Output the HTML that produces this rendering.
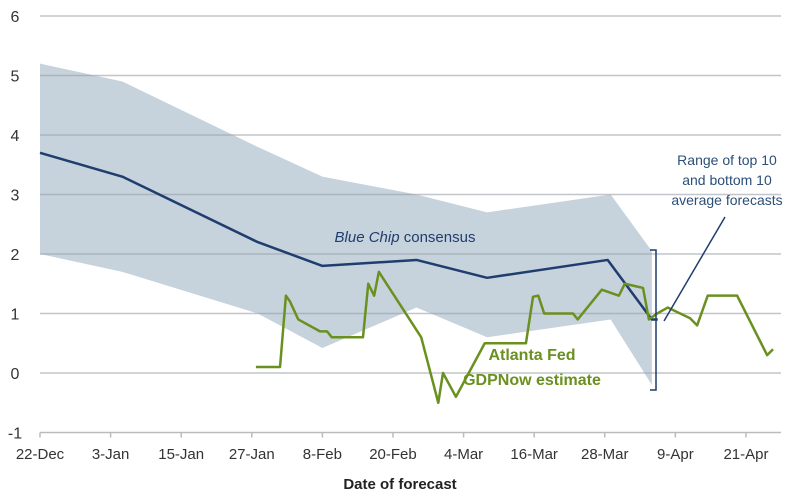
<!DOCTYPE html>
<html><head><meta charset="utf-8"><style>
body{margin:0;background:#fff}
svg{display:block;font-family:"Liberation Sans",sans-serif}
</style></head><body>
<svg id="chart" width="797" height="498" viewBox="0 0 797 498">
<g id="band"></g>
<g id="grid"></g>
<g id="yticks"></g>
<g id="xaxis"></g>
<g id="series"></g>
<text x="405" y="242" text-anchor="middle" font-size="15" fill="#1f3d6e"><tspan font-style="italic">Blue Chip</tspan> consensus</text>
<text x="532" y="360" text-anchor="middle" font-size="16" font-weight="bold" fill="#6a9020">Atlanta Fed</text>
<text x="532" y="385" text-anchor="middle" font-size="16" font-weight="bold" fill="#6a9020">GDPNow estimate</text>
<text x="727" y="165" text-anchor="middle" font-size="14" fill="#2b4f78">Range of top 10</text>
<text x="727" y="185" text-anchor="middle" font-size="14" fill="#2b4f78">and bottom 10</text>
<text x="727" y="205" text-anchor="middle" font-size="14" fill="#2b4f78">average forecasts</text>
<path d="M650,250 H656 V390 H650" fill="none" stroke="#1f3d6e" stroke-width="1.5"/>
<line x1="664" y1="321" x2="725" y2="217" stroke="#1f3d6e" stroke-width="1.5"/>
<text x="400" y="489" text-anchor="middle" font-size="15" font-weight="bold" fill="#222">Date of forecast</text>
</svg>
<script>
const yTicks=[-1,0,1,2,3,4,5,6];
const xLabels=["22-Dec","3-Jan","15-Jan","27-Jan","8-Feb","20-Feb","4-Mar","16-Mar","28-Mar","9-Apr","21-Apr"];
const xLabelDays=[0,12,24,36,48,60,72,84,96,108,120];
const bandDays=[0,14,37,48,64,76,97,104];
const bandUpper=[5.2,4.9,3.8,3.3,3.0,2.7,3.0,2.05];
const bandLower=[2.0,1.7,1.0,0.42,1.1,0.6,0.9,-0.2];
const blueDays=[0,14,37,48,64,76,96.5,104,105];
const blueVals=[3.7,3.3,2.2,1.8,1.9,1.6,1.9,0.9,0.9];
const greenDays=[36.7,40.8,41.8,42.5,43.9,47.6,48.8,49.6,54.9,55.8,56.8,57.6,64.8,67.7,68.5,70.7,75.6,82.6,83.8,84.7,85.7,90.6,91.4,95.5,98.4,99.4,102.5,103.5,104.9,106.7,110.5,111.7,113.5,118.5,123.6,124.6];
const greenVals=[0.1,0.1,1.3,1.2,0.9,0.7,0.7,0.6,0.6,1.5,1.3,1.7,0.6,-0.5,0.0,-0.4,0.5,0.5,1.28,1.3,1.0,1.0,0.9,1.4,1.3,1.5,1.43,0.9,1.0,1.1,0.92,0.8,1.3,1.3,0.3,0.4];
const NS="http://www.w3.org/2000/svg";
function x(d){return 40+5.883*d;}
function y(v){return 373-59.5*v;}
function mk(tag,attrs,parent){const e=document.createElementNS(NS,tag);for(const k in attrs)e.setAttribute(k,attrs[k]);parent.appendChild(e);return e;}
const band=document.getElementById('band'),grid=document.getElementById('grid'),yt=document.getElementById('yticks'),xa=document.getElementById('xaxis'),ser=document.getElementById('series');
let pts=bandDays.map((d,i)=>x(d)+','+y(bandUpper[i]));
for(let i=bandDays.length-1;i>=0;i--)pts.push(x(bandDays[i])+','+y(bandLower[i]));
const bp=mk('polygon',{points:pts.join(' '),fill:'#c6d3dc'},band);


yTicks.forEach(v=>{
 if(v>-1){const l=mk('line',{x1:40,x2:781,y1:y(v),y2:y(v),stroke:'#9aa0a6','stroke-opacity':0.6,'stroke-width':1.5},grid);
 
 }
 const t=mk('text',{x:15,y:y(v)+6,'text-anchor':'middle','font-size':16,fill:'#333'},yt);t.textContent=v;
 
 
});
const ax=mk('line',{x1:40,x2:781,y1:y(-1),y2:y(-1),stroke:'#bbb','stroke-width':1.5},xa);


xLabels.forEach((s,i)=>{
 const tk=mk('line',{x1:x(xLabelDays[i]),x2:x(xLabelDays[i]),y1:y(-1),y2:y(-1)+5,stroke:'#bbb','stroke-width':1.5},xa);
 
 
 const t=mk('text',{x:x(xLabelDays[i]),y:459,'text-anchor':'middle','font-size':15,fill:'#333'},xa);t.textContent=s;
 
 
});
const bl=mk('polyline',{points:blueDays.map((d,i)=>x(d)+','+y(blueVals[i])).join(' '),fill:'none',stroke:'#1f3d6e','stroke-width':2.5,'stroke-linejoin':'round'},ser);


const gl=mk('polyline',{points:greenDays.map((d,i)=>x(d)+','+y(greenVals[i])).join(' '),fill:'none',stroke:'#6a9020','stroke-width':2.5,'stroke-linejoin':'round'},ser);


</script>
</body></html>
